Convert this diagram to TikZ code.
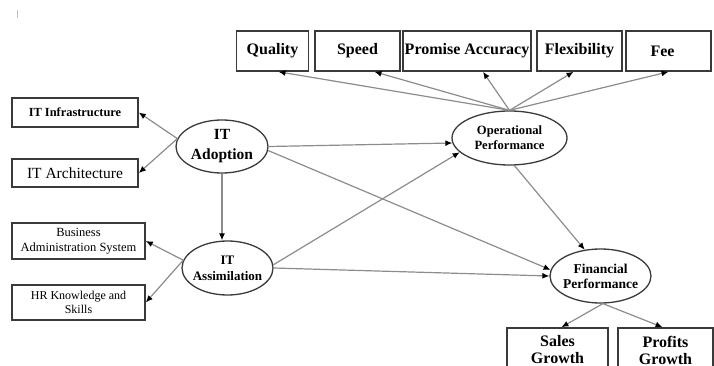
\documentclass[tikz,border=0pt]{standalone}
\usepackage{fontspec}
\setmainfont{Liberation Serif}
\usetikzlibrary{shapes.geometric,arrows.meta}
\definecolor{linegray}{HTML}{8C8C8C}
\definecolor{edgegray}{HTML}{3A3A3A}

\begin{document}
\begin{tikzpicture}[x=1pt,y=-1pt,
  ind/.style={draw=edgegray,line width=1.6pt,rectangle,inner sep=0pt,align=center},
  topind/.style={ind,minimum height=40pt,font=\bfseries\fontsize{16}{19}\selectfont},
  lat/.style={draw=edgegray,line width=1.3pt,ellipse,inner sep=-10pt,align=center},
  link/.style={draw=linegray,line width=1.2pt,-{Latex[length=7pt,width=6pt,black]}}]
  \useasboundingbox (0,0) rectangle (714,366);
  \clip (0,0) rectangle (714,366);
  \draw[gray!50,line width=0.8pt] (17,10) -- (17,18);

  \node[topind,minimum width=72pt] (quality) at (272.5,51) {Quality};
  \node[topind,minimum width=85pt] (speed) at (357.5,51) {Speed};
  \node[topind,minimum width=128pt] (promise) at (467,51) {Promise Accuracy};
  \node[topind,minimum width=85pt] (flex) at (579.5,51) {Flexibility};
  \node[topind,minimum width=85pt] (fee) at (668.5,51) {\hspace*{-12pt}Fee};

  \node[ind,minimum width=126pt,minimum height=29pt,font=\bfseries\fontsize{12.4}{14}\selectfont] (infra) at (75,112.5) {IT Infrastructure};
  \node[ind,minimum width=126pt,minimum height=28pt,font=\fontsize{15.5}{18}\selectfont] (arch) at (75,173) {IT Architecture};
  \node[ind,minimum width=133pt,minimum height=36pt,font=\fontsize{12.5}{15}\selectfont] (bas) at (78.5,241) {Business\\Administration System};
  \node[ind,minimum width=133pt,minimum height=35pt,font=\fontsize{12}{14.5}\selectfont] (hr) at (78.5,302.5) {HR Knowledge and\\Skills};

  \node[ind,minimum width=101pt,minimum height=44pt,font=\bfseries\fontsize{16}{17}\selectfont] (sales) at (557.5,350) {Sales\\Growth};
  \node[ind,minimum width=95pt,minimum height=44pt,font=\bfseries\fontsize{16}{17}\selectfont] (profits) at (665.5,350) {Profits\\Growth};

  \node[lat,minimum width=92pt,minimum height=53pt,font=\bfseries\fontsize{15.5}{20}\selectfont] (adopt) at (222,146.5) {IT\\Adoption};
  \node[lat,minimum width=91pt,minimum height=54pt,font=\bfseries\fontsize{13}{16}\selectfont] (assim) at (227.5,268) {IT\\Assimilation};
  \node[lat,minimum width=115pt,minimum height=54pt,font=\bfseries\fontsize{12.6}{15}\selectfont] (oper) at (509.5,138) {Operational\\Performance};
  \node[lat,minimum width=101pt,minimum height=54pt,font=\bfseries\fontsize{13.5}{15}\selectfont] (fin) at (600.5,276) {Financial\\Performance};

  \draw[link] (oper.north) -- ([xshift=6pt]quality.south);
  \draw[link] (oper.north) -- ([xshift=17pt]speed.south);
  \draw[link] (oper.north) -- ([xshift=16pt]promise.south);
  \draw[link] (oper.north) -- ([xshift=-6pt]flex.south);
  \draw[link] (oper.north) -- (fee.south);

  \draw[link] (adopt.170) -- (infra.east);
  \draw[link] (adopt.170) -- (arch.east);
  \draw[link] (assim.170) -- (bas.east);
  \draw[link] (assim.170) -- (hr.east);

  \draw[link] (adopt.south) -- (adopt.south |- assim.north);
  \draw[link] (adopt.east) -- (oper.185);
  \draw[link] (adopt.-5) -- (fin.173);
  \draw[link] (assim.4) -- (oper.196);
  \draw[link] (assim.east) -- (fin.west);
  \draw[link] (oper.-80) -- (fin.121);
  \draw[link] (fin.-85) -- ([xshift=4pt]sales.north);
  \draw[link] (fin.-85) -- ([xshift=-3pt]profits.north);
\end{tikzpicture}
\end{document}
